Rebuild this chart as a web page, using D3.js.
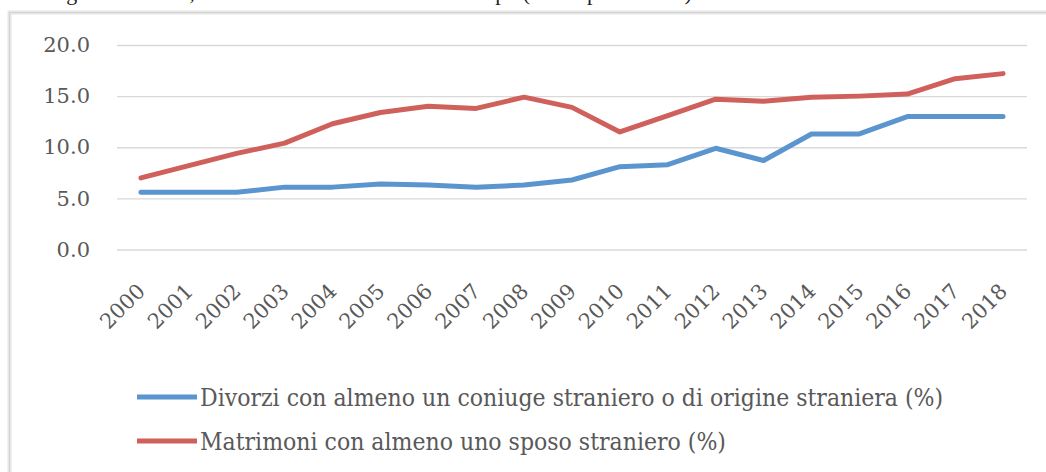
<!DOCTYPE html>
<html>
<head>
<meta charset="utf-8">
<script src="https://cdn.jsdelivr.net/npm/d3@7"></script>
<style>
  html, body { margin: 0; padding: 0; background: #fff; }
  svg { display: block; }
</style>
</head>
<body>
<svg id="chart"></svg>
<script>
// data
const years = ['2000', '2001', '2002', '2003', '2004', '2005', '2006', '2007', '2008', '2009',
    '2010', '2011', '2012', '2013', '2014', '2015', '2016', '2017', '2018'];
const divorzi = [5.6, 5.6, 5.6, 6.1, 6.1, 6.4, 6.3, 6.1, 6.3, 6.8,
    8.1, 8.3, 9.9, 8.7, 11.3, 11.3, 13.0, 13.0, 13.0];
const matrimoni = [7.0, 8.2, 9.4, 10.4, 12.3, 13.4, 14.0, 13.8, 14.9, 13.9,
    11.5, 13.1, 14.7, 14.5, 14.9, 15.0, 15.2, 16.7, 17.2];
const yTicks = [0, 5, 10, 15, 20];
const seriesNames = [
    'Divorzi con almeno un coniuge straniero o di origine straniera (%)',
    'Matrimoni con almeno uno sposo straniero (%)'
];
const caption = 'Figura 2 – Italia, divorzi e matrimoni misti nel tempo (valori percentuali)';

const width = 1046, height = 472;
const margin = { top: 45, right: 19, bottom: 222.5, left: 117 };
const innerW = width - margin.left - margin.right;
const innerH = height - margin.top - margin.bottom;
const colors = ['#5b95cf', '#d0605b'];
const textColor = '#595959';

const svg = d3.select('#chart')
    .attr('width', width)
    .attr('height', height);

// caption of the page, cut by the top edge: only the descenders show
svg.append('text')
    .attr('x', 48)
    .attr('y', 0)
    .attr('font-family', 'Liberation Serif')
    .attr('font-size', 22)
    .attr('fill', '#222')
    .text(caption);

// frame
svg.append('path')
    .attr('d', `M9.5,${height + 5}V12.5H${width + 5}`)
    .attr('fill', 'none')
    .attr('stroke', '#e6e6e6')
    .attr('stroke-width', 4);
svg.append('path')
    .attr('d', `M9.5,${height + 5}V12.5H${width + 5}`)
    .attr('fill', 'none')
    .attr('stroke', '#d4d4d4')
    .attr('stroke-width', 1);

const chart = svg.append('g')
    .attr('transform', `translate(${margin.left}, ${margin.top})`);

const xscale = d3.scalePoint()
    .domain(years)
    .range([0, innerW])
    .padding(0.5);

const yscale = d3.scaleLinear()
    .domain([0, 20])
    .range([innerH, 0]);

// grid + y labels
const yaxis = d3.axisLeft(yscale)
    .tickValues(yTicks)
    .tickSize(-innerW)
    .tickPadding(27)
    .tickFormat(d3.format('.1f'));

chart.append('g')
    .call(yaxis)
    .call(g => g.select('.domain').remove())
    .call(g => g.selectAll('.tick line').attr('stroke', '#d9d9d9').attr('stroke-width', 1.3))
    .call(g => g.selectAll('.tick text')
        .attr('font-family', 'DejaVu Serif')
        .attr('font-size', 21)
        .attr('fill', textColor));

// x labels, rotated
const xaxis = d3.axisBottom(xscale)
    .tickSize(0)
    .tickPadding(0);

chart.append('g')
    .attr('transform', `translate(0, ${innerH})`)
    .call(xaxis)
    .call(g => g.select('.domain').remove())
    .call(g => g.selectAll('.tick text')
        .attr('font-family', 'DejaVu Serif')
        .attr('font-size', 21)
        .attr('fill', textColor)
        .attr('text-anchor', 'end')
        .attr('dy', null)
        .attr('y', null)
        .attr('transform', 'translate(5, 43) rotate(-45)'));

// lines
const line = d3.line()
    .x((d, i) => xscale(years[i]))
    .y(d => yscale(d));

[divorzi, matrimoni].forEach((values, k) => {
    chart.append('path')
        .attr('d', line(values))
        .attr('fill', 'none')
        .attr('stroke', colors[k])
        .attr('stroke-width', 5)
        .attr('stroke-linejoin', 'round')
        .attr('stroke-linecap', 'round');
});

// legend
const legend = svg.append('g')
    .attr('transform', 'translate(137, 397)');

seriesNames.forEach((name, k) => {
    const row = legend.append('g')
        .attr('transform', `translate(0, ${k * 44})`);
    row.append('line')
        .attr('x1', 0)
        .attr('x2', 60)
        .attr('stroke', colors[k])
        .attr('stroke-width', 5);
    row.append('text')
        .attr('x', 63)
        .attr('y', 9)
        .attr('font-family', 'DejaVu Serif Condensed')
        .attr('font-size', 24.5)
        .attr('fill', textColor)
        .text(name);
});
</script>
</body>
</html>
